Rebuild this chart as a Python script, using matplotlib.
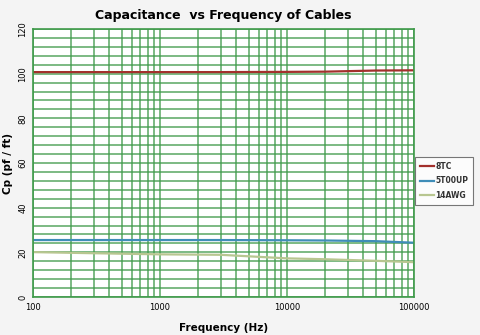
import numpy as np
import matplotlib.pyplot as plt
from matplotlib.ticker import FixedLocator, LogLocator, NullFormatter

# dados
freq = [100, 300, 1000, 3000, 10000, 20000, 50000, 100000]
cap_8tc = [100.7, 100.7, 100.7, 100.7, 100.8, 100.9, 101.4, 101.5]
cap_5t00up = [25.5, 25.5, 25.5, 25.5, 25.4, 25.3, 25.0, 24.3]
cap_14awg = [20.1, 19.6, 19.1, 18.9, 17.3, 16.9, 16.2, 15.6]

series = [('8TC', cap_8tc, '#a3302c'),
          ('5T00UP', cap_5t00up, '#3f8db8'),
          ('14AWG', cap_14awg, '#b8c690')]

fig = plt.figure(figsize=(4.8, 3.35), dpi=100)
fig.patch.set_facecolor('#f4f4f4')
ax = fig.add_axes([33/480, 1 - 297/335, (414-33)/480, (297-29)/335])

for nome, valores, cor in series:
    ax.plot(freq, valores, color=cor, lw=1.6, label=nome)

ax.set_xscale('log')
ax.set_xlim(100, 100000)
ax.set_ylim(0, 120)
ax.xaxis.set_major_locator(FixedLocator([100, 1000, 10000, 100000]))
ax.xaxis.set_major_formatter(plt.FuncFormatter(lambda v, p: f'{int(v)}'))
ax.xaxis.set_minor_locator(LogLocator(base=10, subs=np.arange(2, 10)))
ax.xaxis.set_minor_formatter(NullFormatter())
ax.yaxis.set_major_locator(FixedLocator(np.arange(0, 121, 20)))
ax.yaxis.set_minor_locator(FixedLocator(np.arange(0, 121, 4)))

ax.grid(True, which='both', color='#3f9a4a', lw=1.2, alpha=0.8)
ax.set_axisbelow(True)
for s in ax.spines.values():
    s.set_color('#3f9a4a')
    s.set_linewidth(1.2)
ax.tick_params(which='both', length=0, labelsize=6, pad=4)
for lbl in ax.get_yticklabels():
    lbl.set_rotation(90)
    lbl.set_va('center')

ax.set_title('Capacitance  vs Frequency of Cables', fontsize=9, fontweight='bold', pad=7)
ax.set_xlabel('Frequency (Hz)', fontsize=7.5, fontweight='bold', labelpad=8)
ax.set_ylabel('Cp (pf / ft)', fontsize=7.5, fontweight='bold', labelpad=4)

leg = fig.legend(loc='upper left', bbox_to_anchor=(415/480, 1 - 157/335),
                 fontsize=5.5, frameon=True, fancybox=False, edgecolor='#555555',
                 handlelength=1.9, handletextpad=0.2, borderpad=0.6,
                 labelspacing=0.75, borderaxespad=0)
leg.get_frame().set_linewidth(0.8)
leg.get_frame().set_facecolor('white')
for t in leg.get_texts():
    t.set_fontweight('bold')
    t.set_color('#333333')

fig.savefig('out.png', dpi=100, facecolor=fig.get_facecolor())
